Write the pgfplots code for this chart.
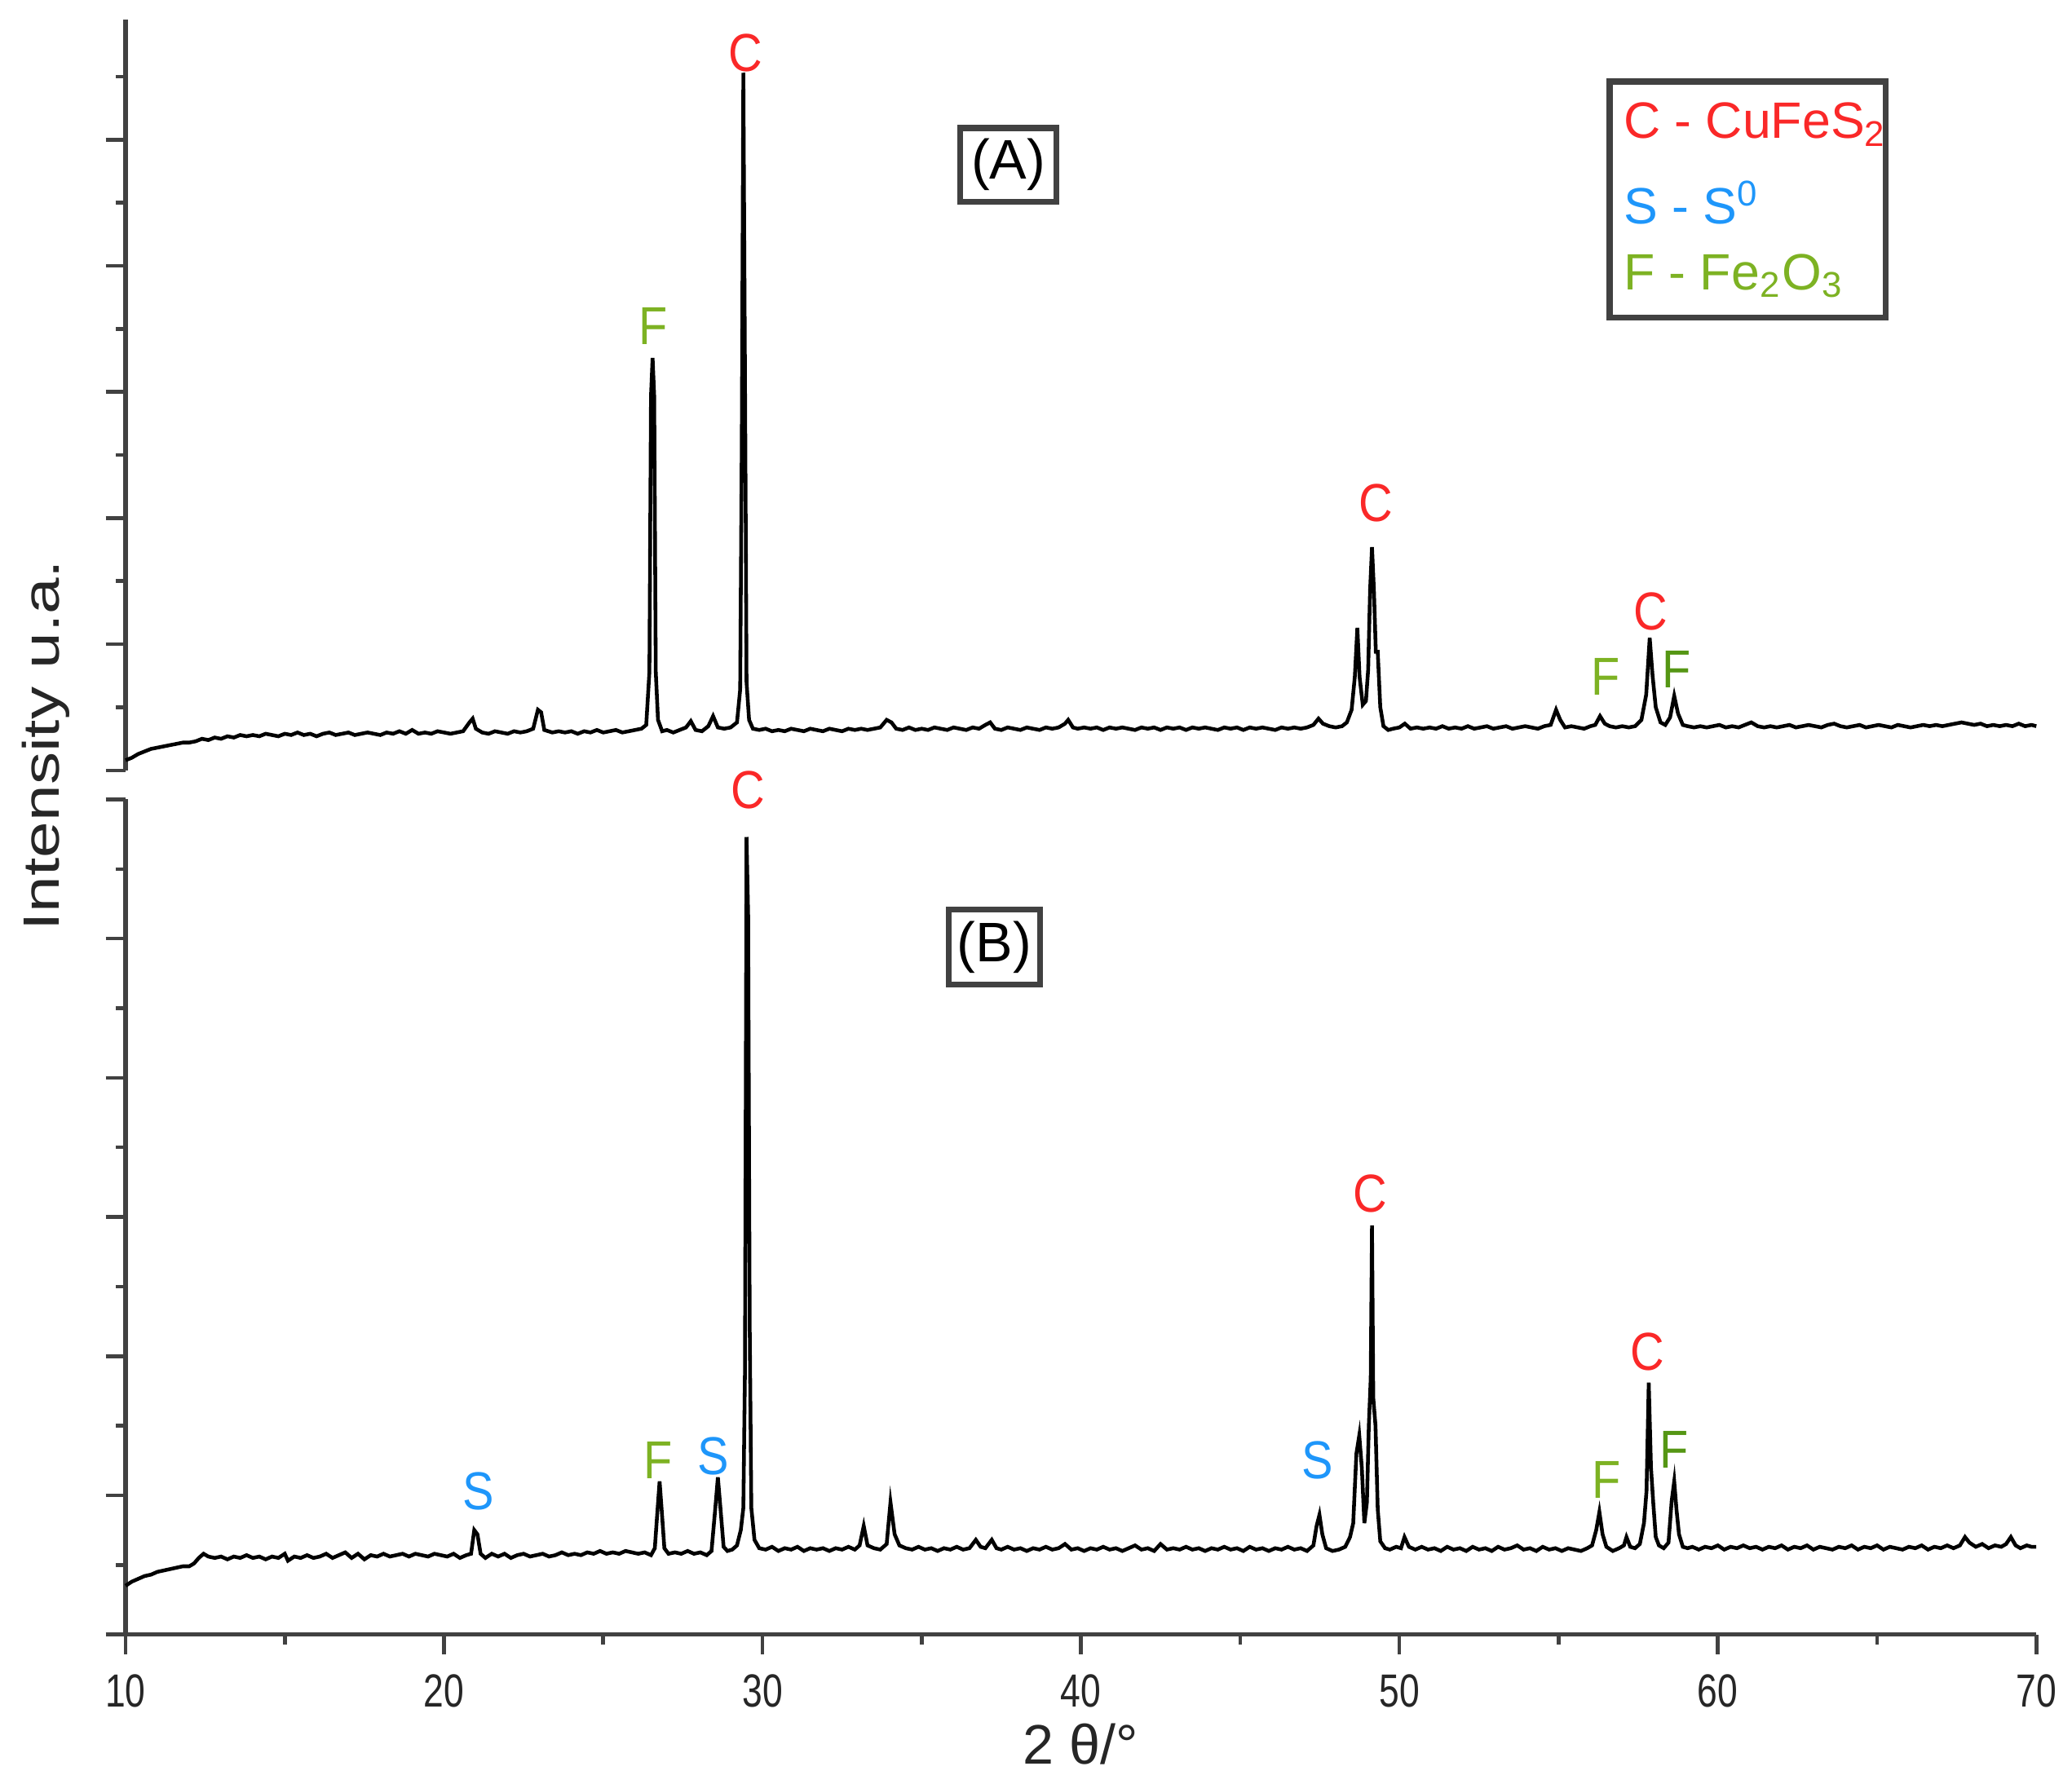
\documentclass[border=0pt]{standalone}
\usepackage{pgfplots}
\pgfplotsset{compat=1.18}
\usepackage{fontspec}
\setmainfont{Liberation Sans}
\usepackage{graphicx}
\definecolor{cC}{RGB}{250,40,40}
\definecolor{cS}{RGB}{30,150,250}
\definecolor{cF}{RGB}{125,178,35}
\definecolor{cFd}{RGB}{85,150,20}
\definecolor{axc}{RGB}{65,65,65}
\newcommand{\lab}[1]{\scalebox{0.88}[1]{#1}}
\begin{document}
\begin{tikzpicture}
\path[use as bounding box] (-0.95cm,-1.13cm) rectangle (14.73cm,12.37cm);
\pgfplotsset{
  panel/.style={
    width=14.46cm, scale only axis, xmin=10, xmax=70,
    clip=false,
    axis line style={axc, line width=0.9pt},
    tick style={axc, line width=0.8pt},
    tick align=outside,
    major tick length=1.5mm, minor tick length=0.75mm,
    yticklabels={},
    /pgf/number format/assume math mode=true,
  },
}
% ---------- top panel (A)
\begin{axis}[panel, at={(0cm,6.54cm)}, anchor=south west, height=5.68cm,
  ymin=0, ymax=5.95,
  axis y line*=left, axis x line=none,
  ytick={0,1,2,3,4,5}, minor ytick={0.5,1.5,2.5,3.5,4.5,5.5}]
\addplot[black, line width=0.8pt] coordinates {
(10.00,0.08) (10.20,0.10) (10.40,0.13) (10.60,0.15) (10.80,0.17) (11.00,0.18) (11.20,0.19) (11.40,0.20) (11.60,0.21) (11.80,0.22)
(12.00,0.22) (12.20,0.23) (12.40,0.25) (12.60,0.24) (12.80,0.26) (13.00,0.25) (13.20,0.27) (13.40,0.26) (13.60,0.28) (13.80,0.27)
(14.00,0.28) (14.20,0.27) (14.40,0.29) (14.60,0.28) (14.80,0.27) (15.00,0.29) (15.20,0.28) (15.40,0.30) (15.60,0.28) (15.80,0.29)
(16.00,0.27) (16.20,0.29) (16.40,0.30) (16.60,0.28) (16.80,0.29) (17.00,0.30) (17.20,0.28) (17.40,0.29) (17.60,0.30) (17.80,0.29)
(18.00,0.28) (18.20,0.30) (18.40,0.29) (18.60,0.31) (18.80,0.29) (19.00,0.32) (19.20,0.29) (19.40,0.30) (19.60,0.29) (19.80,0.31)
(20.00,0.30) (20.20,0.29) (20.40,0.30) (20.60,0.31) (20.80,0.38) (20.90,0.41) (21.00,0.33) (21.20,0.30) (21.40,0.29) (21.60,0.31)
(21.80,0.30) (22.00,0.29) (22.20,0.31) (22.40,0.30) (22.60,0.31) (22.80,0.33) (22.95,0.48) (23.05,0.46) (23.15,0.32) (23.40,0.30)
(23.60,0.31) (23.80,0.30) (24.00,0.31) (24.20,0.29) (24.40,0.31) (24.60,0.30) (24.80,0.32) (25.00,0.30) (25.20,0.31) (25.40,0.32)
(25.60,0.30) (25.80,0.31) (26.00,0.32) (26.20,0.33) (26.35,0.36) (26.45,0.78) (26.50,2.97) (26.55,3.27) (26.60,2.97) (26.65,0.78)
(26.72,0.40) (26.85,0.31) (27.00,0.32) (27.20,0.30) (27.40,0.32) (27.60,0.34) (27.75,0.39) (27.90,0.32) (28.10,0.31) (28.30,0.35)
(28.45,0.43) (28.60,0.34) (28.80,0.33) (29.00,0.34) (29.20,0.38) (29.30,0.64) (29.35,2.57) (29.40,5.53) (29.45,3.18) (29.50,0.70)
(29.58,0.40) (29.70,0.33) (29.90,0.32) (30.10,0.33) (30.30,0.31) (30.50,0.32) (30.70,0.31) (30.90,0.33) (31.10,0.32) (31.30,0.31)
(31.50,0.33) (31.70,0.32) (31.90,0.31) (32.10,0.33) (32.30,0.32) (32.50,0.31) (32.70,0.33) (32.90,0.32) (33.10,0.33) (33.30,0.32)
(33.50,0.33) (33.70,0.34) (33.90,0.40) (34.05,0.38) (34.20,0.33) (34.40,0.32) (34.60,0.34) (34.80,0.32) (35.00,0.33) (35.20,0.32)
(35.40,0.34) (35.60,0.33) (35.80,0.32) (36.00,0.34) (36.20,0.33) (36.40,0.32) (36.60,0.34) (36.80,0.33) (37.00,0.36) (37.15,0.38)
(37.30,0.33) (37.50,0.32) (37.70,0.34) (37.90,0.33) (38.10,0.32) (38.30,0.34) (38.50,0.33) (38.70,0.32) (38.90,0.34) (39.10,0.33)
(39.30,0.34) (39.50,0.37) (39.60,0.40) (39.75,0.34) (39.90,0.33) (40.10,0.34) (40.30,0.33) (40.50,0.34) (40.70,0.32) (40.90,0.34)
(41.10,0.33) (41.30,0.34) (41.50,0.33) (41.70,0.32) (41.90,0.34) (42.10,0.33) (42.30,0.34) (42.50,0.32) (42.70,0.34) (42.90,0.33)
(43.10,0.34) (43.30,0.32) (43.50,0.34) (43.70,0.33) (43.90,0.34) (44.10,0.33) (44.30,0.32) (44.50,0.34) (44.70,0.33) (44.90,0.34)
(45.10,0.32) (45.30,0.34) (45.50,0.33) (45.70,0.34) (45.90,0.33) (46.10,0.32) (46.30,0.34) (46.50,0.33) (46.70,0.34) (46.90,0.33)
(47.10,0.34) (47.30,0.36) (47.46,0.41) (47.60,0.37) (47.80,0.35) (48.00,0.34) (48.20,0.35) (48.35,0.38) (48.50,0.48) (48.60,0.74)
(48.68,1.13) (48.75,0.74) (48.85,0.52) (48.95,0.55) (49.02,0.80) (49.08,1.43) (49.14,1.77) (49.20,1.43) (49.26,0.94) (49.32,0.94)
(49.40,0.50) (49.50,0.35) (49.65,0.32) (49.80,0.33) (50.00,0.34) (50.17,0.37) (50.35,0.33) (50.55,0.34) (50.75,0.33) (50.95,0.34)
(51.15,0.33) (51.35,0.35) (51.55,0.33) (51.75,0.34) (51.95,0.33) (52.15,0.35) (52.35,0.33) (52.55,0.34) (52.75,0.35) (52.95,0.33)
(53.15,0.34) (53.35,0.35) (53.55,0.33) (53.75,0.34) (53.95,0.35) (54.15,0.34) (54.35,0.33) (54.55,0.35) (54.75,0.36) (54.92,0.48)
(55.05,0.40) (55.20,0.34) (55.40,0.35) (55.60,0.34) (55.80,0.33) (56.00,0.35) (56.15,0.36) (56.30,0.43) (56.45,0.37) (56.60,0.35)
(56.80,0.34) (57.00,0.35) (57.20,0.34) (57.40,0.35) (57.60,0.40) (57.75,0.60) (57.86,1.05) (57.95,0.75) (58.05,0.50) (58.20,0.38)
(58.35,0.36) (58.50,0.42) (58.63,0.59) (58.75,0.45) (58.90,0.36) (59.05,0.35) (59.25,0.34) (59.45,0.35) (59.65,0.34) (59.85,0.35)
(60.05,0.36) (60.25,0.34) (60.45,0.35) (60.65,0.34) (60.85,0.36) (61.05,0.38) (61.25,0.35) (61.45,0.34) (61.65,0.35) (61.85,0.34)
(62.05,0.35) (62.25,0.36) (62.45,0.34) (62.65,0.35) (62.85,0.36) (63.05,0.35) (63.25,0.34) (63.45,0.36) (63.65,0.37) (63.85,0.35)
(64.05,0.34) (64.25,0.35) (64.45,0.36) (64.65,0.34) (64.85,0.35) (65.05,0.36) (65.25,0.35) (65.45,0.34) (65.65,0.36) (65.85,0.35)
(66.05,0.34) (66.25,0.35) (66.45,0.36) (66.65,0.35) (66.85,0.36) (67.05,0.35) (67.25,0.36) (67.45,0.37) (67.65,0.38) (67.85,0.37)
(68.05,0.36) (68.25,0.37) (68.45,0.35) (68.65,0.36) (68.85,0.35) (69.05,0.36) (69.25,0.35) (69.45,0.37) (69.65,0.35) (69.85,0.36)
(70.00,0.35)};
\begin{scope}[every node/.style={font=\fontsize{11.5}{11.5}\selectfont, inner sep=0pt}]
\node[text=cF] at (axis cs:26.56,3.52) {\lab{F}};
\node[text=cC] at (axis cs:29.46,5.69) {\lab{C}};
\node[text=cC] at (axis cs:49.25,2.12) {\lab{C}};
\node[text=cC] at (axis cs:57.88,1.26) {\lab{C}};
\node[text=cF] at (axis cs:56.47,0.74) {\lab{F}};
\node[text=cFd] at (axis cs:58.71,0.80) {\lab{F}};
\end{scope}
\node[draw=axc, line width=1.3pt, fill=white, minimum width=7.3mm, minimum height=5.6mm, inner sep=0pt,
  font=\fontsize{12}{12}\selectfont] at (axis cs:37.72,4.80) {(A)};
\draw[axc, line width=1.3pt] (axis cs:56.6,5.46) rectangle (axis cs:65.27,3.59);
\begin{scope}[every node/.style={font=\fontsize{11}{11}\selectfont, inner sep=0pt, anchor=base west}]
\node[text=cC] at (axis cs:57.01,5.01) {C - CuFeS\textsubscript{2}};
\node[text=cS] at (axis cs:57.01,4.33) {S - S\textsuperscript{0}};
\node[text=cF] at (axis cs:57.01,3.81) {F - Fe\textsubscript{2}O\textsubscript{3}};
\end{scope}
\end{axis}
% ---------- bottom panel (B)
\begin{axis}[panel, at={(0cm,0cm)}, anchor=south west, height=6.32cm,
  ymin=0, ymax=6,
  axis y line*=left, axis x line*=bottom,
  ytick={0,1,2,3,4,5,6}, minor ytick={0.5,1.5,2.5,3.5,4.5,5.5},
  xtick={10,20,30,40,50,60,70}, minor xtick={15,25,35,45,55,65},
  xticklabel={\scalebox{0.78}[1]{\pgfmathprintnumber{\tick}}},
  xticklabel style={font=\fontsize{10}{10}\selectfont, text=black!85, yshift=-0.3mm}]
\addplot[black, line width=0.8pt] coordinates {
(10.00,0.35) (10.20,0.38) (10.40,0.40) (10.60,0.42) (10.80,0.43) (11.00,0.45) (11.20,0.46) (11.40,0.47) (11.60,0.48) (11.80,0.49)
(12.00,0.49) (12.15,0.51) (12.30,0.55) (12.45,0.58) (12.60,0.56) (12.80,0.55) (13.00,0.56) (13.20,0.54) (13.40,0.56) (13.60,0.55)
(13.80,0.57) (14.00,0.55) (14.20,0.56) (14.40,0.54) (14.60,0.56) (14.80,0.55) (15.00,0.58) (15.10,0.53) (15.30,0.56) (15.50,0.55)
(15.70,0.57) (15.90,0.55) (16.10,0.56) (16.30,0.58) (16.50,0.55) (16.70,0.57) (16.90,0.59) (17.10,0.55) (17.30,0.58) (17.50,0.54)
(17.70,0.57) (17.90,0.56) (18.10,0.58) (18.30,0.56) (18.50,0.57) (18.70,0.58) (18.90,0.56) (19.10,0.58) (19.30,0.57) (19.50,0.56)
(19.70,0.58) (19.90,0.57) (20.10,0.56) (20.30,0.58) (20.50,0.55) (20.70,0.57) (20.85,0.58) (20.95,0.75) (21.05,0.72) (21.15,0.58)
(21.30,0.55) (21.50,0.58) (21.70,0.56) (21.90,0.58) (22.10,0.55) (22.30,0.57) (22.50,0.58) (22.70,0.56) (22.90,0.57) (23.10,0.58)
(23.30,0.56) (23.50,0.57) (23.70,0.59) (23.90,0.57) (24.10,0.58) (24.30,0.57) (24.50,0.59) (24.70,0.58) (24.90,0.60) (25.10,0.58)
(25.30,0.59) (25.50,0.58) (25.70,0.60) (25.90,0.59) (26.10,0.58) (26.30,0.59) (26.50,0.57) (26.62,0.62) (26.70,0.88) (26.77,1.10)
(26.84,0.88) (26.92,0.62) (27.05,0.58) (27.25,0.59) (27.45,0.58) (27.65,0.60) (27.85,0.58) (28.05,0.59) (28.25,0.57) (28.40,0.60)
(28.52,0.91) (28.60,1.13) (28.68,0.91) (28.78,0.63) (28.90,0.60) (29.05,0.61) (29.20,0.64) (29.32,0.75) (29.40,0.91) (29.45,1.88)
(29.50,5.73) (29.55,5.17) (29.60,2.20) (29.65,0.91) (29.75,0.68) (29.90,0.62) (30.10,0.61) (30.30,0.63) (30.50,0.60) (30.70,0.62)
(30.90,0.61) (31.10,0.63) (31.30,0.60) (31.50,0.62) (31.70,0.61) (31.90,0.62) (32.10,0.60) (32.30,0.62) (32.50,0.61) (32.70,0.63)
(32.90,0.61) (33.05,0.64) (33.18,0.78) (33.30,0.64) (33.50,0.62) (33.70,0.61) (33.90,0.65) (34.02,0.95) (34.15,0.72) (34.30,0.64)
(34.50,0.62) (34.70,0.61) (34.90,0.63) (35.10,0.61) (35.30,0.62) (35.50,0.60) (35.70,0.62) (35.90,0.61) (36.10,0.63) (36.30,0.61)
(36.50,0.62) (36.70,0.68) (36.85,0.63) (37.00,0.62) (37.20,0.68) (37.35,0.62) (37.50,0.61) (37.70,0.63) (37.90,0.61) (38.10,0.62)
(38.30,0.60) (38.50,0.62) (38.70,0.61) (38.90,0.63) (39.10,0.61) (39.30,0.62) (39.50,0.65) (39.70,0.61) (39.90,0.62) (40.10,0.60)
(40.30,0.62) (40.50,0.61) (40.70,0.63) (40.90,0.61) (41.10,0.62) (41.30,0.60) (41.50,0.62) (41.70,0.64) (41.90,0.61) (42.10,0.62)
(42.30,0.60) (42.50,0.65) (42.70,0.61) (42.90,0.62) (43.10,0.61) (43.30,0.63) (43.50,0.61) (43.70,0.62) (43.90,0.60) (44.10,0.62)
(44.30,0.61) (44.50,0.63) (44.70,0.61) (44.90,0.62) (45.10,0.60) (45.30,0.63) (45.50,0.61) (45.70,0.62) (45.90,0.60) (46.10,0.62)
(46.30,0.61) (46.50,0.63) (46.70,0.61) (46.90,0.62) (47.10,0.60) (47.30,0.64) (47.40,0.78) (47.49,0.86) (47.58,0.72) (47.70,0.62)
(47.90,0.60) (48.10,0.61) (48.30,0.63) (48.45,0.70) (48.55,0.80) (48.65,1.30) (48.74,1.43) (48.82,1.20) (48.90,0.80) (48.98,0.95)
(49.04,1.50) (49.10,1.84) (49.14,2.94) (49.18,1.70) (49.25,1.50) (49.32,0.90) (49.40,0.67) (49.55,0.62) (49.70,0.61) (49.90,0.63)
(50.05,0.62) (50.16,0.70) (50.30,0.63) (50.50,0.61) (50.70,0.63) (50.90,0.61) (51.10,0.62) (51.30,0.60) (51.50,0.63) (51.70,0.61)
(51.90,0.62) (52.10,0.60) (52.30,0.63) (52.50,0.61) (52.70,0.62) (52.90,0.60) (53.10,0.63) (53.30,0.61) (53.50,0.62) (53.70,0.64)
(53.90,0.61) (54.10,0.62) (54.30,0.60) (54.50,0.63) (54.70,0.61) (54.90,0.62) (55.10,0.60) (55.30,0.62) (55.50,0.61) (55.70,0.60)
(55.90,0.62) (56.05,0.64) (56.18,0.75) (56.28,0.88) (56.38,0.72) (56.50,0.63) (56.70,0.60) (56.90,0.62) (57.05,0.64) (57.13,0.70)
(57.25,0.63) (57.40,0.62) (57.55,0.65) (57.68,0.80) (57.76,1.03) (57.83,1.81) (57.90,1.20) (57.97,0.95) (58.05,0.70) (58.15,0.64)
(58.30,0.62) (58.45,0.66) (58.55,0.96) (58.63,1.10) (58.70,0.90) (58.78,0.72) (58.90,0.63) (59.05,0.62) (59.20,0.63) (59.40,0.61)
(59.60,0.63) (59.80,0.62) (60.00,0.64) (60.20,0.61) (60.40,0.63) (60.60,0.62) (60.80,0.64) (61.00,0.62) (61.20,0.63) (61.40,0.61)
(61.60,0.63) (61.80,0.62) (62.00,0.64) (62.20,0.61) (62.40,0.63) (62.60,0.62) (62.80,0.64) (63.00,0.61) (63.20,0.63) (63.40,0.62)
(63.60,0.61) (63.80,0.63) (64.00,0.62) (64.20,0.64) (64.40,0.61) (64.60,0.63) (64.80,0.62) (65.00,0.64) (65.20,0.61) (65.40,0.63)
(65.60,0.62) (65.80,0.61) (66.00,0.63) (66.20,0.62) (66.40,0.64) (66.60,0.61) (66.80,0.63) (67.00,0.62) (67.20,0.64) (67.40,0.62)
(67.60,0.64) (67.76,0.70) (67.90,0.66) (68.10,0.63) (68.30,0.65) (68.50,0.62) (68.70,0.64) (68.90,0.63) (69.05,0.65) (69.20,0.70)
(69.35,0.64) (69.50,0.62) (69.70,0.64) (69.85,0.63) (70.00,0.63)};
\begin{scope}[every node/.style={font=\fontsize{11.5}{11.5}\selectfont, inner sep=0pt}]
\node[text=cC] at (axis cs:29.54,6.07) {\lab{C}};
\node[text=cC] at (axis cs:49.09,3.17) {\lab{C}};
\node[text=cS] at (axis cs:21.08,1.03) {\lab{S}};
\node[text=cF] at (axis cs:26.72,1.25) {\lab{F}};
\node[text=cS] at (axis cs:28.46,1.28) {\lab{S}};
\node[text=cS] at (axis cs:47.43,1.25) {\lab{S}};
\node[text=cC] at (axis cs:57.80,2.03) {\lab{C}};
\node[text=cF] at (axis cs:56.51,1.11) {\lab{F}};
\node[text=cFd] at (axis cs:58.63,1.33) {\lab{F}};
\end{scope}
\node[draw=axc, line width=1.3pt, fill=white, minimum width=6.9mm, minimum height=5.7mm, inner sep=0pt,
  font=\fontsize{12}{12}\selectfont] at (axis cs:37.28,4.94) {(B)};
\node[font=\fontsize{12}{12}\selectfont, text=black!85] at (axis description cs:0.5,0) [yshift=-8.3mm] {2 θ/°};
\end{axis}
\node[rotate=90, font=\fontsize{11}{11}\selectfont, text=black!85] at (-0.60cm,6.73cm) {\scalebox{1.28}[1]{Intensity u.a.}};
\end{tikzpicture}
\end{document}
